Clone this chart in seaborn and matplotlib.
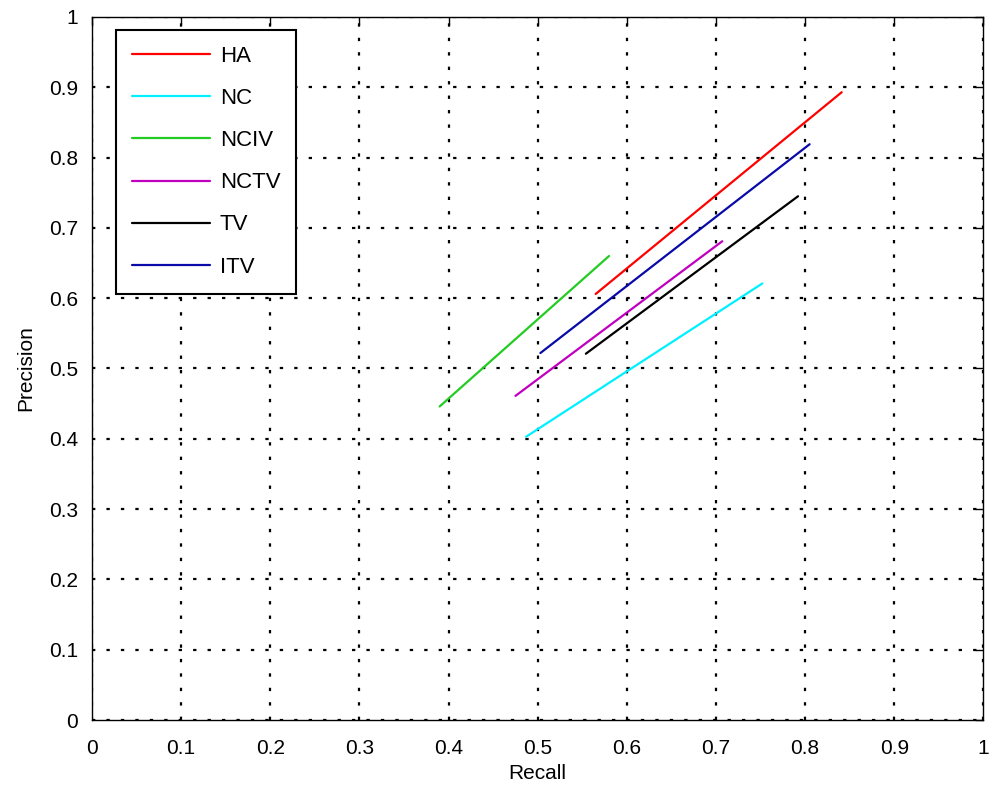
import numpy as np
import pandas as pd
import matplotlib
matplotlib.use("Agg")
import matplotlib.pyplot as plt
import seaborn as sns

# ── data (endpoints of each precision/recall curve) ─────────────────────────
methods   = ["HA", "NC", "NCIV", "NCTV", "TV", "ITV"]
recall_lo = [0.565, 0.487, 0.390, 0.475, 0.554, 0.503]
recall_hi = [0.841, 0.752, 0.580, 0.707, 0.792, 0.805]
prec_lo   = [0.606, 0.403, 0.446, 0.461, 0.521, 0.522]
prec_hi   = [0.893, 0.621, 0.660, 0.681, 0.745, 0.819]
colors    = ["#ff0000", "#00f0ff", "#22cc22", "#c000c0", "#000000", "#0a0aa8"]
ticks     = [0, 0.1, 0.2, 0.3, 0.4, 0.5, 0.6, 0.7, 0.8, 0.9, 1]
tick_lbls = ["0", "0.1", "0.2", "0.3", "0.4", "0.5", "0.6", "0.7", "0.8", "0.9", "1"]

rows = []
for m, r0, r1, p0, p1 in zip(methods, recall_lo, recall_hi, prec_lo, prec_hi):
    rows.append({"method": m, "Recall": r0, "Precision": p0})
    rows.append({"method": m, "Recall": r1, "Precision": p1})
df = pd.DataFrame(rows)

sns.set_style("white")
plt.rcParams["font.family"] = ["Liberation Sans", "DejaVu Sans"]
plt.rcParams["text.color"] = "black"
plt.rcParams["axes.labelcolor"] = "black"
plt.rcParams["xtick.color"] = "black"
plt.rcParams["ytick.color"] = "black"

fig = plt.figure(figsize=(9.9, 7.9), dpi=100)
ax = fig.add_axes([0.0929, 0.0886, 0.9005, 0.8899])

sns.lineplot(data=df, x="Recall", y="Precision", hue="method",
             palette=dict(zip(methods, colors)), hue_order=methods,
             estimator=None, sort=False, units="method",
             linewidth=1.6, ax=ax)

ax.set_xlim(0, 1); ax.set_ylim(0, 1)
ax.set_xticks(ticks); ax.set_yticks(ticks)
ax.set_xticklabels(tick_lbls, fontsize=15)
ax.set_yticklabels(tick_lbls, fontsize=15)
ax.set_xlabel("Recall", fontsize=15, labelpad=4)
ax.set_ylabel("Precision", fontsize=15, labelpad=10)
ax.grid(True, color="black", linestyle=(0, (1.5, 5)), linewidth=1.6)
ax.tick_params(direction="in", top=True, right=True, length=6,
               width=1, color="black")
ax.tick_params(axis="x", pad=14)
ax.tick_params(axis="y", pad=10)
for s in ax.spines.values():
    s.set_color("black"); s.set_linewidth(1.0)

handles, labels = ax.get_legend_handles_labels()
leg = ax.legend(handles, labels, loc="upper left",
                bbox_to_anchor=(0.027, 0.9815), borderaxespad=0,
                fontsize=16, handlelength=3.5, handletextpad=0.45,
                labelspacing=0.95, borderpad=0.72, fancybox=False,
                framealpha=1, edgecolor="black")
leg.get_frame().set_linewidth(1.5)

fig.savefig("out.png", dpi=100)
